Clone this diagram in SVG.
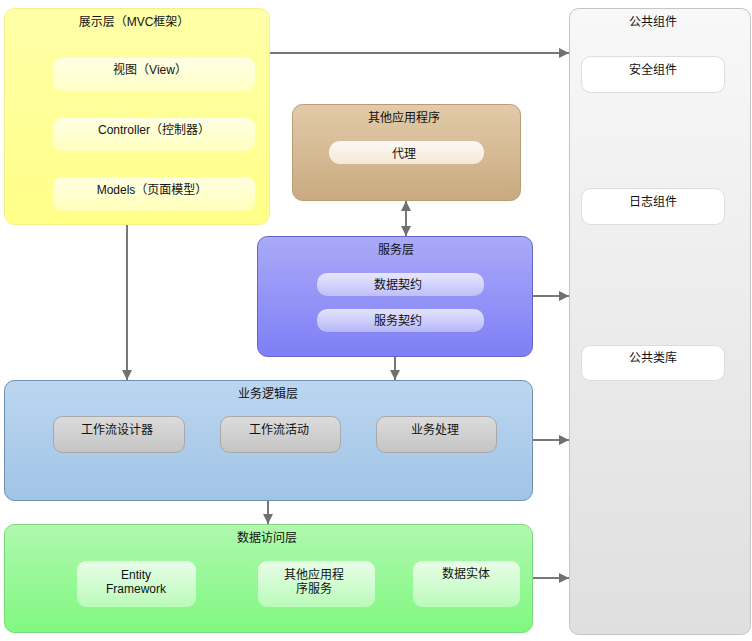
<svg xmlns="http://www.w3.org/2000/svg" width="752" height="641" viewBox="0 0 752 641">
<defs>
<linearGradient id="gYellow" x1="0" y1="0" x2="0" y2="1"><stop offset="0" stop-color="#ffffa8"/><stop offset="1" stop-color="#ffff88"/></linearGradient>
<linearGradient id="gTan" x1="0" y1="0" x2="0" y2="1"><stop offset="0" stop-color="#e2cba9"/><stop offset="1" stop-color="#c9aa80"/></linearGradient>
<linearGradient id="gPurple" x1="0" y1="0" x2="0" y2="1"><stop offset="0" stop-color="#aaaaf8"/><stop offset="1" stop-color="#7e7ef6"/></linearGradient>
<linearGradient id="gBlue" x1="0" y1="0" x2="0" y2="1"><stop offset="0" stop-color="#bcd6f0"/><stop offset="1" stop-color="#a0c4e6"/></linearGradient>
<linearGradient id="gGreen" x1="0" y1="0" x2="0" y2="1"><stop offset="0" stop-color="#b0f8b0"/><stop offset="1" stop-color="#80f880"/></linearGradient>
<linearGradient id="gGray" x1="0" y1="0" x2="0" y2="1"><stop offset="0" stop-color="#f8f8f8"/><stop offset="1" stop-color="#dfdfdf"/></linearGradient>
<linearGradient id="gInner" x1="0" y1="0" x2="0" y2="1"><stop offset="0" stop-color="#ffffff" stop-opacity="0.75"/><stop offset="1" stop-color="#ffffff" stop-opacity="0.4"/></linearGradient>
<linearGradient id="gProxy" x1="0" y1="0" x2="0" y2="1"><stop offset="0" stop-color="#ffffff"/><stop offset="1" stop-color="#fbeedd"/></linearGradient>
<linearGradient id="gBtn" x1="0" y1="0" x2="0" y2="1"><stop offset="0" stop-color="#dcdcdc"/><stop offset="1" stop-color="#c4c4c4"/></linearGradient>
<marker id="arr" viewBox="0 0 10 10" refX="10" refY="5" markerWidth="10" markerHeight="10" markerUnits="userSpaceOnUse" orient="auto-start-reverse"><path d="M0,0 L10,5 L0,10 z" fill="#707070"/></marker>
</defs>
<style>
text{font-family:"Liberation Sans","Noto Sans CJK SC",sans-serif;font-size:12px;fill:#111;text-anchor:middle}
.conn{stroke:#777;stroke-width:2;fill:none}
.inner{fill:url(#gInner)}
.btn{fill:url(#gBtn);stroke:#a8a8a8;stroke-width:1}
.white{fill:#ffffff;stroke:#dddddd;stroke-width:1}
</style>
<rect width="752" height="641" fill="#ffffff"/>

<g id="common">
<rect x="569.5" y="8.5" width="181" height="626" rx="9" fill="url(#gGray)" stroke="#c4c4c4"/>
<text x="653" y="26">公共组件</text>
<g id="security"><rect x="581.5" y="56.5" width="143" height="36" rx="9" class="white"/><text x="653" y="74">安全组件</text></g>
<g id="logging"><rect x="581.5" y="188.5" width="143" height="36" rx="9" class="white"/><text x="653" y="206">日志组件</text></g>
<g id="commonlib"><rect x="581.5" y="345.5" width="143" height="35" rx="9" class="white"/><text x="653" y="362">公共类库</text></g>
</g>

<g id="presentation">
<rect x="4.5" y="8.5" width="265" height="216" rx="10" fill="url(#gYellow)" stroke="#f4f090"/>
<text x="134" y="26">展示层（MVC框架）</text>
<g id="view"><rect x="53" y="58" width="202" height="33" rx="9" class="inner"/><text x="150" y="74">视图（View）</text></g>
<g id="controller"><rect x="53" y="118" width="202" height="33" rx="9" class="inner"/><text x="154" y="134">Controller（控制器）</text></g>
<g id="models"><rect x="53" y="177" width="202" height="34" rx="9" class="inner"/><text x="152" y="194">Models（页面模型）</text></g>
</g>

<g id="otherapps">
<rect x="292.5" y="104.5" width="228" height="96" rx="10" fill="url(#gTan)" stroke="#b89c78"/>
<text x="404" y="122">其他应用程序</text>
<g id="proxy"><rect x="329" y="141" width="155" height="23" rx="11" fill="url(#gProxy)" fill-opacity="0.9"/><text x="404" y="158">代理</text></g>
</g>

<g id="service">
<rect x="257.5" y="236.5" width="275" height="120" rx="10" fill="url(#gPurple)" stroke="#6464c8"/>
<text x="396" y="254">服务层</text>
<g id="datacontract"><rect x="317" y="273" width="167" height="23" rx="10" class="inner"/><text x="398" y="289">数据契约</text></g>
<g id="servicecontract"><rect x="317" y="309" width="167" height="23" rx="10" class="inner"/><text x="398" y="325">服务契约</text></g>
</g>

<g id="business">
<rect x="4.5" y="380.5" width="528" height="120" rx="10" fill="url(#gBlue)" stroke="#6e8fb0"/>
<text x="268" y="398">业务逻辑层</text>
<g id="wfdesigner"><rect x="53.5" y="416.5" width="131" height="36" rx="9" class="btn"/><text x="117" y="434">工作流设计器</text></g>
<g id="wfactivity"><rect x="220.5" y="416.5" width="120" height="36" rx="9" class="btn"/><text x="279" y="434">工作流活动</text></g>
<g id="bizprocess"><rect x="376.5" y="416.5" width="120" height="36" rx="9" class="btn"/><text x="435" y="434">业务处理</text></g>
</g>

<g id="dataaccess">
<rect x="4.5" y="524.5" width="528" height="108" rx="10" fill="url(#gGreen)" stroke="#7ad87a"/>
<text x="267" y="542">数据访问层</text>
<g id="ef"><rect x="77" y="561" width="119" height="46" rx="9" class="inner"/><text x="136" y="579">Entity</text><text x="136" y="593">Framework</text></g>
<g id="otherappsvc"><rect x="258" y="561" width="117" height="46" rx="9" class="inner"/><text x="314" y="579">其他应用程</text><text x="314" y="593">序服务</text></g>
<g id="dataentity"><rect x="413" y="561" width="107" height="46" rx="9" class="inner"/><text x="466" y="578">数据实体</text></g>
</g>

<g id="connectors">
<line x1="270" y1="53" x2="569" y2="53" class="conn" marker-end="url(#arr)"/>
<line x1="127" y1="225" x2="127" y2="380" class="conn" marker-end="url(#arr)"/>
<line x1="406" y1="201" x2="406" y2="236" class="conn" marker-start="url(#arr)" marker-end="url(#arr)"/>
<line x1="533" y1="296" x2="569" y2="296" class="conn" marker-end="url(#arr)"/>
<line x1="395" y1="357" x2="395" y2="380" class="conn" marker-end="url(#arr)"/>
<line x1="533" y1="440" x2="569" y2="440" class="conn" marker-end="url(#arr)"/>
<line x1="268" y1="501" x2="268" y2="524" class="conn" marker-end="url(#arr)"/>
<line x1="533" y1="578" x2="569" y2="578" class="conn" marker-end="url(#arr)"/>
</g>
</svg>
